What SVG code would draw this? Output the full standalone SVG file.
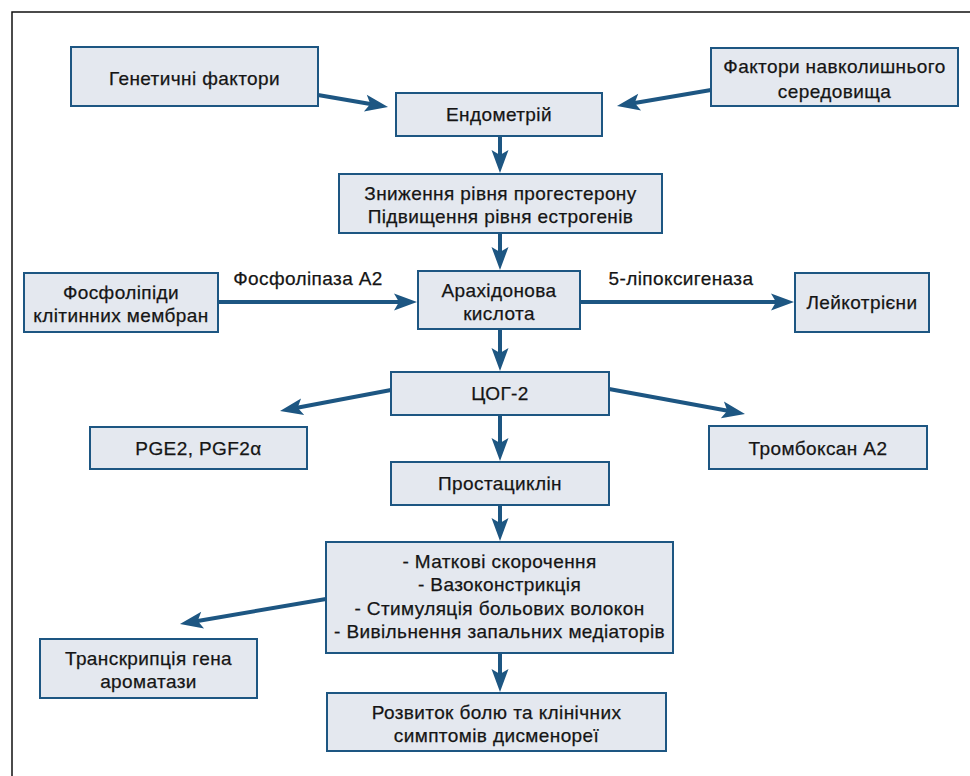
<svg xmlns="http://www.w3.org/2000/svg" width="970" height="776" viewBox="0 0 970 776">
<defs>
<style>
.box{fill:#e4e8ef;stroke:#1d5682;stroke-width:2}
.t{font-family:"Liberation Sans","DejaVu Sans",sans-serif;font-size:19px;letter-spacing:0.4px;fill:#151515;stroke:#151515;stroke-width:0.25;text-anchor:middle}
.c{fill:none;stroke:#1d5682;stroke-width:4;marker-end:url(#ah)}
</style>
<marker id="ah" markerUnits="userSpaceOnUse" orient="auto" overflow="visible" markerWidth="30" markerHeight="30" refX="0" refY="0">
<path d="M12,0 L-11,-8.5 L-6,0 L-11,8.5 Z" fill="#1d5682"/>
</marker>
</defs>
<rect width="970" height="776" fill="#ffffff"/>
<path d="M12,776 V12 H970" fill="none" stroke="#111" stroke-width="1.5"/>

<g id="connectors">
<line class="c" x1="318" y1="95" x2="376.2" y2="105"/>
<line class="c" x1="711" y1="90" x2="628.8" y2="104"/>
<line class="c" x1="500" y1="136" x2="500" y2="161"/>
<line class="c" x1="500" y1="233" x2="500" y2="258"/>
<line class="c" x1="218" y1="302" x2="405" y2="302"/>
<line class="c" x1="580" y1="302" x2="782" y2="302"/>
<line class="c" x1="500" y1="329" x2="500" y2="359"/>
<line class="c" x1="391" y1="390" x2="291.8" y2="408.8"/>
<line class="c" x1="609" y1="389" x2="733.2" y2="411.8"/>
<line class="c" x1="500" y1="415" x2="500" y2="449"/>
<line class="c" x1="500" y1="505" x2="500" y2="529"/>
<line class="c" x1="326" y1="599" x2="191.8" y2="622"/>
<line class="c" x1="500" y1="653" x2="500" y2="680"/>
<text class="t" x="308" y="285">Фосфоліпаза А2</text>
<text class="t" x="681" y="285">5-ліпоксигеназа</text>
</g>

<g id="genetic"><rect class="box" x="71" y="47" width="247" height="59"/><text class="t" x="194.5" y="85">Генетичні фактори</text></g>
<g id="environment"><rect class="box" x="711" y="48" width="247" height="58"/><text class="t" x="834.5" y="73">Фактори навколишнього</text><text class="t" x="834.5" y="98">середовища</text></g>
<g id="endometrium"><rect class="box" x="396" y="93" width="206" height="43"/><text class="t" x="499" y="121">Ендометрій</text></g>
<g id="hormones"><rect class="box" x="339" y="174" width="323" height="59"/><text class="t" x="500.5" y="200">Зниження рівня прогестерону</text><text class="t" x="500.5" y="223">Підвищення рівня естрогенів</text></g>
<g id="phospholipids"><rect class="box" x="24" y="273" width="194" height="59"/><text class="t" x="121" y="299">Фосфоліпіди</text><text class="t" x="121" y="322">клітинних мембран</text></g>
<g id="arachidonic"><rect class="box" x="418" y="271" width="162" height="58"/><text class="t" x="499" y="297">Арахідонова</text><text class="t" x="499" y="320">кислота</text></g>
<g id="leukotrienes"><rect class="box" x="795" y="273" width="134" height="59"/><text class="t" x="862" y="309">Лейкотрієни</text></g>
<g id="cox2"><rect class="box" x="391" y="372" width="218" height="43"/><text class="t" x="500" y="400">ЦОГ-2</text></g>
<g id="pge"><rect class="box" x="90" y="427" width="217" height="42"/><text class="t" x="198.5" y="455">PGE2, PGF2α</text></g>
<g id="thromboxane"><rect class="box" x="709" y="426" width="218" height="43"/><text class="t" x="818" y="455">Тромбоксан А2</text></g>
<g id="prostacyclin"><rect class="box" x="391" y="462" width="218" height="43"/><text class="t" x="500" y="490">Простациклін</text></g>
<g id="effects"><rect class="box" x="326" y="542" width="347" height="111"/><text class="t" x="499.5" y="568">- Маткові скорочення</text><text class="t" x="499.5" y="591">- Вазоконстрикція</text><text class="t" x="499.5" y="615">- Стимуляція больових волокон</text><text class="t" x="499.5" y="638">- Вивільнення запальних медіаторів</text></g>
<g id="aromatase"><rect class="box" x="40" y="639" width="217" height="59"/><text class="t" x="148.5" y="665">Транскрипція гена</text><text class="t" x="148.5" y="688">ароматази</text></g>
<g id="pain"><rect class="box" x="327" y="693" width="339" height="58"/><text class="t" x="496.5" y="719">Розвиток болю та клінічних</text><text class="t" x="496.5" y="742">симптомів дисменореї</text></g>
</svg>
